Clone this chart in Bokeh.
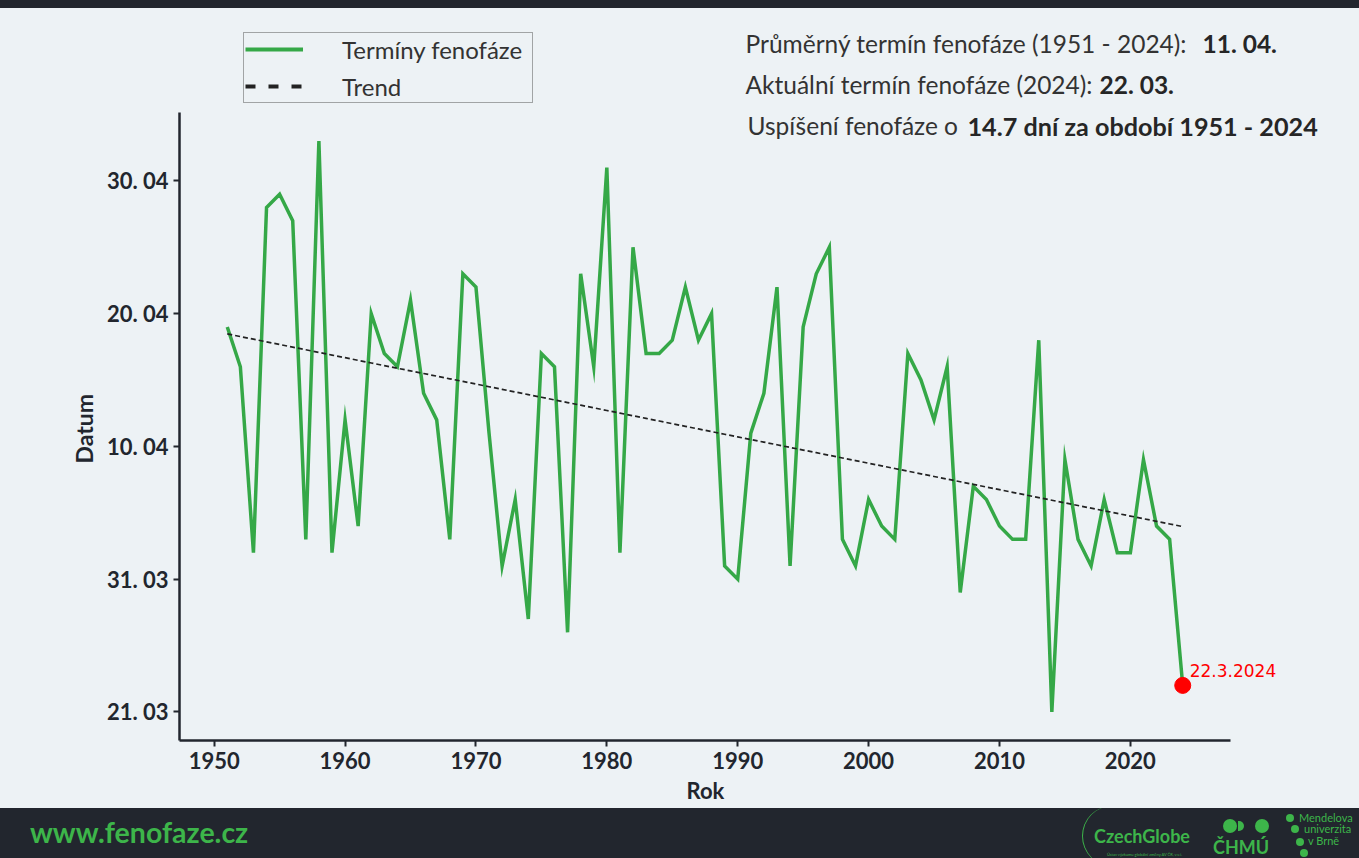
import numpy as np
from bokeh.plotting import figure
from bokeh.models import Range1d, FixedTicker, Legend, LegendItem, Label, Title, Div
from bokeh.layouts import column
from bokeh.embed import file_html
from bokeh.resources import INLINE

try:
    from bokeh.models import GlobalInlineStyleSheet
except Exception:
    GlobalInlineStyleSheet = None

# ---------------- data ----------------
years = list(range(1951, 2025))
doy = [109, 106, 92, 118, 119, 117, 93, 123, 92, 102,
       94, 110, 107, 106, 111, 104, 102, 93, 113, 112,
       101, 91, 96, 87, 107, 106, 86, 113, 106, 121,
       92, 115, 107, 107, 108, 112, 108, 110, 91, 90,
       101, 104, 112, 91, 109, 113, 115, 93, 91, 96,
       94, 93, 107, 105, 102, 106, 89, 97, 96, 94,
       93, 93, 108, 80, 99, 93, 91, 96, 92, 92,
       99, 94, 93, 82]
y_ticks = [80, 90, 100, 110, 120]
y_tick_labels = ["21. 03", "31. 03", "10. 04", "20. 04", "30. 04"]
x_ticks = [1950, 1960, 1970, 1980, 1990, 2000, 2010, 2020]
last_label = "22.3.2024"
legend_labels = ["Termíny fenofáze", "Trend"]
info_normal = ["Průměrný termín fenofáze (1951 - 2024):", "Aktuální termín fenofáze (2024):",
               "Uspíšení fenofáze o"]
info_bold = ["11. 04.", "22. 03.", "14.7 dní za období 1951 - 2024"]

BG = "#edf2f5"
DARK = "#22262e"
GREEN = "#35a847"
FGREEN = "#3db54a"
TXT = "#333333"
TXTB = "#262626"
FONT = "Lato"

coef = np.polyfit(years, doy, 1)
trend = list(np.polyval(coef, years))

# axis extents (matplotlib-like 5 % margins)
xlo = min(years) - 0.05 * (max(years) - min(years))
xhi = max(years) + 0.05 * (max(years) - min(years))
ylo = min(doy) - 0.05 * (max(doy) - min(doy))
yhi = max(doy) + 0.05 * (max(doy) - min(doy))

# layout (pixels)
PW = 1359
W, H = PW, 800
BL, BB = 179, 68            # left / bottom border
AX_LEN = 1051               # length of x axis line
AY_LEN = 628                # length of y axis line
FW, FH = W - BL, H - BB     # frame size (frame extends to top/right edges)
x_end = xlo + FW * (xhi - xlo) / AX_LEN
y_end = ylo + FH * (yhi - ylo) / AY_LEN

p = figure(width=W, height=H,
           x_range=Range1d(xlo, x_end), y_range=Range1d(ylo, y_end),
           output_backend="svg", toolbar_location=None,
           min_border_left=BL, min_border_right=0, min_border_top=0, min_border_bottom=BB,
           background_fill_alpha=0, border_fill_alpha=0, outline_line_color=None,
           styles={"background-color": BG})
p.grid.visible = False

r_line = p.line(years, doy, line_color=GREEN, line_width=3.5, line_join="miter")
r_trend = p.line(years, trend, line_color="#222222", line_width=1.7, line_dash="5 3")
p.scatter([years[-1]], [doy[-1]], size=16, color="red", line_color="red")

# legend proxies (hidden in the plot, drawn only in the legend with a thicker style)
lg_line = p.line(years, doy, line_color=GREEN, line_width=4, visible=False)
lg_dash = p.line(years, trend, line_color="#222222", line_width=4, line_dash="10 13", visible=False)
legend = Legend(items=[LegendItem(label=legend_labels[0], renderers=[lg_line]),
                       LegendItem(label=legend_labels[1], renderers=[lg_dash])],
                location=(64, 637), orientation="vertical",
                padding=1, margin=0, spacing=7,
                label_height=30, glyph_height=30, glyph_width=58, label_standoff=39,
                label_width=189,
                label_text_font=FONT, label_text_font_size="24px", label_text_color=TXT,
                border_line_color="#555555", border_line_width=1,
                background_fill_color=BG, background_fill_alpha=1.0,
                inactive_fill_alpha=0.0)
p.add_layout(legend)

# axes
for ax in (p.xaxis, p.yaxis):
    ax.axis_line_color = DARK
    ax.axis_line_width = 2.5
    ax.major_tick_line_color = DARK
    ax.major_tick_line_width = 2
    ax.major_tick_in = 0
    ax.major_tick_out = 6
    ax.minor_tick_line_color = None
    ax.major_label_text_font = FONT
    ax.major_label_text_font_style = "bold"
    ax.major_label_text_font_size = "22px"
    ax.major_label_text_color = DARK
    ax.major_label_standoff = 5
p.xaxis.bounds = (xlo, xhi)
p.yaxis.bounds = (ylo, yhi)
p.xaxis.ticker = FixedTicker(ticks=x_ticks)
p.yaxis.ticker = FixedTicker(ticks=y_ticks)
p.yaxis.major_label_overrides = {t: l for t, l in zip(y_ticks, y_tick_labels)}

# axis titles placed along the axis lines (frame is larger than the axes)
p.add_layout(Title(text="Datum", align="left", offset=277, standoff=12,
                   text_font=FONT, text_font_size="23px", text_font_style="bold",
                   text_color=DARK), "left")
p.add_layout(Title(text="Rok", align="left", offset=507, standoff=6,
                   text_font=FONT, text_font_size="22px", text_font_style="bold",
                   text_color=DARK), "below")

# red label of the last value
p.add_layout(Label(x=years[-1], y=doy[-1], text=last_label, x_offset=7, y_offset=15,
                   text_font="DejaVu Sans", text_font_size="17px", text_color="red",
                   text_baseline="middle"))

# info text block (screen units, relative to frame bottom-left)
nx = [566, 566, 568]
bx = [1023, 920, 788]
ny = [697, 656, 615]
bsize = ["24.5px", "24.5px", "25.2px"]
for t, xx, yy in zip(info_normal, nx, ny):
    p.add_layout(Label(x=xx, y=yy, x_units="screen", y_units="screen", text=t,
                       text_font=FONT, text_font_size="24.5px", text_color=TXT,
                       text_baseline="middle"))
for t, xx, yy, fs in zip(info_bold, bx, ny, bsize):
    p.add_layout(Label(x=xx, y=yy, x_units="screen", y_units="screen", text=t,
                       text_font=FONT, text_font_size=fs, text_font_style="bold",
                       text_color=TXTB, text_baseline="middle"))

# ---------------- header band & footer ----------------
top = Div(text=f'<div style="width:{PW}px;height:8px;background:{DARK};"></div>',
          width=PW, height=8, margin=0)

G = FGREEN
footer_html = f"""
<div style="position:relative;width:{PW}px;height:50px;background:{DARK};overflow:hidden;font-family:Lato,sans-serif;">
  <span style="position:absolute;left:30px;top:10px;font-size:28.5px;line-height:28px;font-weight:bold;color:{G};white-space:nowrap;">www.fenofaze.cz</span>
  <div style="position:absolute;left:1082px;top:-2px;width:60px;height:60px;border-radius:50%;border-left:1.5px solid {G};box-sizing:border-box;"></div>
  <span style="position:absolute;left:1094px;top:17px;font-size:18px;line-height:22px;font-weight:bold;color:{G};white-space:nowrap;">CzechGlobe</span>
  <span style="position:absolute;left:1107px;top:44px;font-size:4px;line-height:5px;color:{G};white-space:nowrap;">Ústav výzkumu globální změny AV ČR, v.v.i.</span>
  <div style="position:absolute;left:1223px;top:11px;width:14px;height:14px;border-radius:50%;background:{G};"></div>
  <div style="position:absolute;left:1238px;top:13px;width:6px;height:10px;border-radius:0 5px 5px 0;background:{G};"></div>
  <div style="position:absolute;left:1255px;top:11px;width:14px;height:14px;border-radius:50%;background:{G};"></div>
  <span style="position:absolute;left:1213px;top:29px;font-size:18px;line-height:20px;font-weight:bold;color:{G};white-space:nowrap;">ČHMÚ</span>
  <div style="position:absolute;left:1286px;top:6px;width:8px;height:8px;border-radius:50%;background:{G};"></div>
  <div style="position:absolute;left:1291px;top:17px;width:8px;height:8px;border-radius:50%;background:{G};"></div>
  <div style="position:absolute;left:1296px;top:30px;width:8px;height:8px;border-radius:50%;background:{G};"></div>
  <div style="position:absolute;left:1300px;top:41px;width:8px;height:8px;border-radius:50%;background:{G};"></div>
  <span style="position:absolute;left:1299px;top:3px;font-size:11px;line-height:13px;color:{G};white-space:nowrap;">Mendelova</span>
  <span style="position:absolute;left:1304px;top:14px;font-size:11px;line-height:13px;color:{G};white-space:nowrap;">univerzita</span>
  <span style="position:absolute;left:1308px;top:26px;font-size:11px;line-height:13px;color:{G};white-space:nowrap;">v Brně</span>
</div>
"""
footer = Div(text=footer_html, width=PW, height=50, margin=0)

kw = {}
if GlobalInlineStyleSheet is not None:
    kw["stylesheets"] = [GlobalInlineStyleSheet(css=f"html, body {{ background: {DARK}; }}")]
layout = column(top, p, footer, spacing=0, **kw)
open("out.html", "w").write(file_html(layout, INLINE))
